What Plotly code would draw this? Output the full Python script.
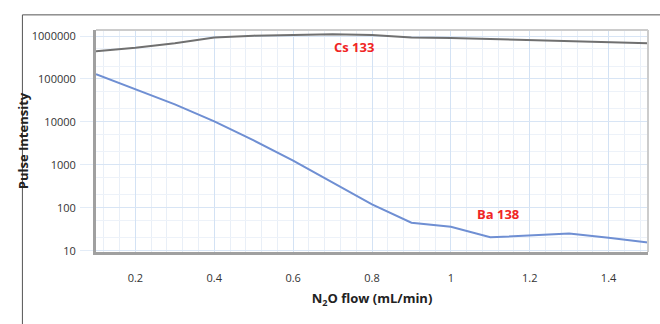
import plotly.graph_objects as go

flow = [0.1, 0.2, 0.3, 0.4, 0.5, 0.6, 0.7, 0.8, 0.9, 1.0, 1.1, 1.2, 1.3, 1.4, 1.5]
cs133 = [440000, 530000, 680000, 920000, 1020000, 1050000, 1100000, 1050000,
         920000, 900000, 850000, 800000, 760000, 720000, 680000]
ba138 = [129000, 58000, 25500, 10300, 3700, 1250, 390, 120, 45, 36, 20.5, 23, 25, 20, 15.6]

y_ticks = [10, 100, 1000, 10000, 100000, 1000000]
y_ticklabels = ["10", "100", "1000", "10000", "100000", "1000000"]
x_ticks = [0.2, 0.4, 0.6, 0.8, 1.0, 1.2, 1.4]
x_ticklabels = ["0.2", "0.4", "0.6", "0.8", "1", "1.2", "1.4"]

fig = go.Figure()
fig.add_trace(go.Scatter(x=flow, y=cs133, mode="lines", name="Cs 133",
                         line=dict(color="#707070", width=2)))
fig.add_trace(go.Scatter(x=flow, y=ba138, mode="lines", name="Ba 138",
                         line=dict(color="#6f8fd3", width=2)))

font_family = "Open Sans, Noto Sans, sans-serif"

fig.update_layout(
    width=660, height=324,
    margin=dict(l=96, r=12, t=30, b=72),
    paper_bgcolor="white", plot_bgcolor="white",
    showlegend=False,
    font=dict(family=font_family, size=11, color="#333333"),
    xaxis=dict(
        range=[0.1, 1.5], tickvals=x_ticks, ticktext=x_ticklabels,
        showgrid=True, gridcolor="#d3e2f4", gridwidth=1,
        minor=dict(dtick=0.04, tick0=0.2, showgrid=True, gridcolor="#e9eff7", gridwidth=1),
        showline=True, linecolor="#a0a0a0", linewidth=3,
        ticks="", zeroline=False, ticklabelstandoff=14,
        title=dict(text="N<sub>2</sub>O flow (mL/min)",
                   font=dict(family=font_family, size=13, color="#222222", weight="bold"),
                   standoff=10),
        mirror=False,
    ),
    yaxis=dict(
        type="log", range=[0.97, 6.14], tickvals=y_ticks, ticktext=y_ticklabels,
        showgrid=True, gridcolor="#d8e5f5", gridwidth=1,
        minor=dict(dtick="D2", showgrid=True, gridcolor="#edf2f9", gridwidth=1),
        showline=True, linecolor="#a0a0a0", linewidth=3,
        ticks="outside", ticklen=13, tickcolor="#e3ecf7", tickwidth=1,
        zeroline=False, ticklabelstandoff=2,
        title=dict(text="Pulse Intensity",
                   font=dict(family=font_family, size=13, color="#222222", weight="bold"),
                   standoff=1),
    ),
    shapes=[
        # outer frame (top and left)
        dict(type="line", xref="paper", yref="paper", x0=-0.1333, x1=1.1, y0=1.0682, y1=1.0682,
             line=dict(color="#555555", width=1)),
        dict(type="line", xref="paper", yref="paper", x0=-0.1333, x1=-0.1333, y0=1.0682, y1=-0.4,
             line=dict(color="#555555", width=1)),
        # top and right plot border
        dict(type="line", xref="paper", yref="paper", x0=0, x1=1, y0=1, y1=1,
             line=dict(color="#cccccc", width=2)),
        dict(type="line", xref="paper", yref="paper", x0=1, x1=1, y0=0, y1=1,
             line=dict(color="#cccccc", width=2)),
    ],
    annotations=[
        dict(x=0.754, y=5.74, xref="x", yref="y", text="<b>Cs 133</b>", showarrow=False,
             font=dict(family=font_family, size=13, color="#f02525")),
        dict(x=1.12, y=1.86, xref="x", yref="y", text="<b>Ba 138</b>", showarrow=False,
             font=dict(family=font_family, size=13, color="#f02525")),
    ],
)

fig.write_html("out.html")
